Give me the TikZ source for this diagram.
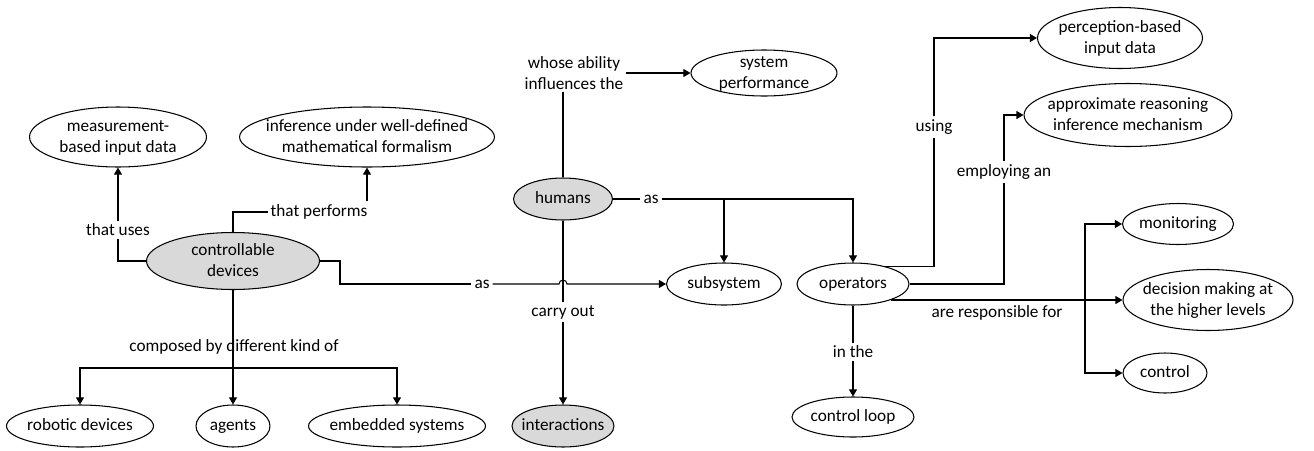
\documentclass[tikz,border=0pt]{standalone}
\usepackage{fontspec}
\setmainfont{Carlito}
\usepackage{tikz}
\usetikzlibrary{shapes.geometric}
\usetikzlibrary{arrows.meta,calc}

\definecolor{conceptgray}{RGB}{217,217,217}
% text box of zero size, so the ellipse takes the given size
\newcommand{\ctext}[1]{\makebox[0pt]{\smash{\raisebox{-0.3em}{\begin{tabular}{@{}c@{}}#1\end{tabular}}}}}

\tikzset{
  concept/.style 2 args={ellipse,draw,inner sep=0pt,minimum width=#1cm,minimum height=#2cm},
  core/.style={fill=conceptgray},
  link/.style={inner sep=1.5pt,align=center},
}

\begin{document}
\begin{tikzpicture}[x=0.02cm,y=-0.02cm,line width=0.6pt,
  >={Triangle[length=4pt,width=4.5pt]},
  font=\fontsize{9.8}{11.6}\selectfont]
\useasboundingbox (0,0) rectangle (1314,450);
% concepts
\node[concept={3.46}{1.14},core](ctrl) at (233,261) {\ctext{controllable\\devices}};
\node[concept={3.54}{1.2}](measure) at (118,137) {\ctext{measurement-\\based input data}};
\node[concept={5.1}{1.2}](infer) at (367,137) {\ctext{inference under well-defined\\mathematical formalism}};
\node[concept={1.98}{0.84},core](humans) at (563,199) {\ctext{humans}};
\node[concept={2.92}{0.92}](sysperf) at (764,73) {\ctext{system\\performance}};
\node[concept={2.3}{0.84}](subsys) at (724,284) {\ctext{subsystem}};
\node[concept={2.24}{0.84}](oper) at (853,284) {\ctext{operators}};
\node[concept={3.3}{1.22}](percep) at (1120,38) {\ctext{perception-based\\input data}};
\node[concept={4.16}{1.26}](approx) at (1128,115) {\ctext{approximate reasoning\\inference mechanism}};
\node[concept={2.22}{0.82}](monit) at (1178,224) {\ctext{monitoring}};
\node[concept={3.4}{1.22}](decis) at (1208,300) {\ctext{decision making at\\the higher levels}};
\node[concept={1.68}{0.8}](contr) at (1165,373) {\ctext{control}};
\node[concept={2.44}{0.8}](ctrlloop) at (853,417) {\ctext{control loop}};
\node[concept={2.94}{0.84}](robot) at (80,426) {\ctext{robotic devices}};
\node[concept={1.48}{0.84}](agents) at (233,426) {\ctext{agents}};
\node[concept={3.54}{0.84}](embed) at (397,426) {\ctext{embedded systems}};
\node[concept={2.04}{0.84},core](interact) at (563,426) {\ctext{interactions}};
% linking phrases
\node[link](uses) at (118,230) {that uses};
\node[link](perf) at (319,212) {that performs};
\node[link](whose) at (574,73) {whose ability\\influences the};
\node[link](as1) at (651,199) {as};
\node[link](as2) at (482,284) {as};
\node[link](carry) at (563,312) {carry out};
\node[link](comp) at (234,347) {composed by different kind of};
\node[link](using) at (934,127) {using};
\node[link](employ) at (1004,172) {employing an};
\node[link](resp) at (997,313) {are responsible for};
\node[link](inthe) at (853,352) {in the};
\coordinate (fork) at (233,368);
\coordinate (rfork) at (1085,300);
% connectors
\draw (ctrl.west) -| (uses.south);
\draw[->] (uses.north) -- (measure.south);
\draw (ctrl.north) |- (perf.west);
\draw[->] (perf.north -| infer.south) -- (infer.south);
\draw (ctrl.east) -- ++(20,0) |- (as2.west);
\draw[->] (as2.east) -- ($(humans.south |- as2.east)+(-4,0)$)
  arc[start angle=180,end angle=0,radius=0.08cm] -- (subsys.west);
\draw[->] (ctrl.south) -- (agents.north);
\draw[->] (fork) -| (robot.north);
\draw[->] (fork) -| (embed.north);
\draw (humans.north) -- (humans.north |- whose.south);
\draw[->] (whose.east) -- (sysperf.west);
\draw (humans.east) -- (as1.west);
\draw[->] (as1.east) -| (oper.north);
\draw[->] (as1.east -| subsys.north) -- (subsys.north);
\draw (humans.south) -- (carry.north);
\draw[->] (carry.south) -- (interact.north);
\draw (oper.30) -| (using.south);
\draw[->] (using.north) |- (percep.west);
\draw (oper.east) -| (employ.south);
\draw[->] (employ.north) |- (approx.west);
\draw[->] (oper.-23) -- (oper.-23 -| decis.west);
\draw[->] (rfork) |- (monit.west);
\draw[->] (rfork) |- (contr.west);
\draw (oper.south) -- (inthe.north);
\draw[->] (inthe.south) -- (ctrlloop.north);
\end{tikzpicture}
\end{document}
